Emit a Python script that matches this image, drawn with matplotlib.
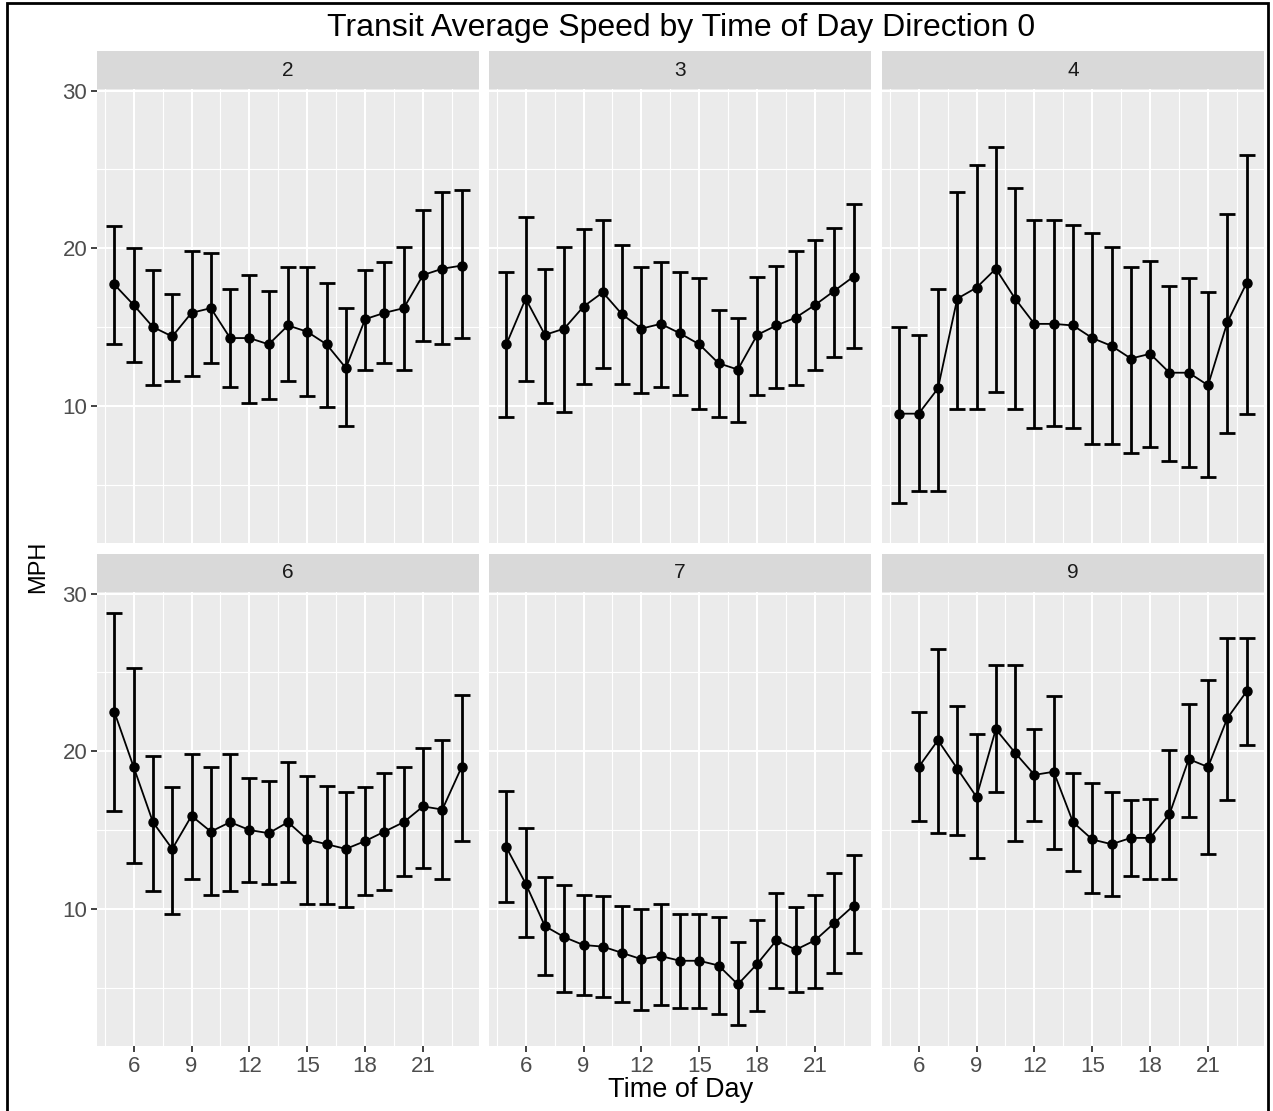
import numpy as np
import matplotlib.pyplot as plt
from matplotlib.patches import Rectangle
from matplotlib.ticker import FixedLocator

plt.rcParams['font.family'] = ['Liberation Sans', 'DejaVu Sans']

# Hours of day (x categories)
hours = [5, 6, 7, 8, 9, 10, 11, 12, 13, 14, 15, 16, 17, 18, 19, 20, 21, 22, 23]
hours_9 = [6, 7, 8, 9, 10, 11, 12, 13, 14, 15, 16, 17, 18, 19, 20, 21, 22, 23]

routes = ["2", "3", "4", "6", "7", "9"]

# Route 2
speed_2 = [17.7, 16.4, 15.0, 14.4, 15.9, 16.2, 14.3, 14.3, 13.9, 15.1, 14.7, 13.9, 12.4, 15.5, 15.9, 16.2, 18.3, 18.7, 18.9]
upper_2 = [21.4, 20.0, 18.6, 17.1, 19.8, 19.7, 17.4, 18.3, 17.3, 18.8, 18.8, 17.8, 16.2, 18.6, 19.1, 20.1, 22.4, 23.6, 23.7]
lower_2 = [13.9, 12.8, 11.3, 11.6, 11.9, 12.7, 11.2, 10.2, 10.4, 11.6, 10.6, 9.9, 8.7, 12.3, 12.7, 12.3, 14.1, 13.9, 14.3]

# Route 3
speed_3 = [13.9, 16.8, 14.5, 14.9, 16.3, 17.2, 15.8, 14.9, 15.2, 14.6, 13.9, 12.7, 12.3, 14.5, 15.1, 15.6, 16.4, 17.3, 18.2]
upper_3 = [18.5, 22.0, 18.7, 20.1, 21.2, 21.8, 20.2, 18.8, 19.1, 18.5, 18.1, 16.1, 15.6, 18.2, 18.9, 19.8, 20.5, 21.3, 22.8]
lower_3 = [9.3, 11.6, 10.2, 9.6, 11.4, 12.4, 11.4, 10.8, 11.2, 10.7, 9.8, 9.3, 9.0, 10.7, 11.1, 11.3, 12.3, 13.1, 13.7]

# Route 4
speed_4 = [9.5, 9.5, 11.1, 16.8, 17.5, 18.7, 16.8, 15.2, 15.2, 15.1, 14.3, 13.8, 13.0, 13.3, 12.1, 12.1, 11.3, 15.3, 17.8]
upper_4 = [15.0, 14.5, 17.4, 23.6, 25.3, 26.4, 23.8, 21.8, 21.8, 21.5, 21.0, 20.1, 18.8, 19.2, 17.6, 18.1, 17.2, 22.2, 25.9]
lower_4 = [3.8, 4.6, 4.6, 9.8, 9.8, 10.9, 9.8, 8.6, 8.7, 8.6, 7.6, 7.6, 7.0, 7.4, 6.5, 6.1, 5.5, 8.3, 9.5]

# Route 6
speed_6 = [22.5, 19.0, 15.5, 13.8, 15.9, 14.9, 15.5, 15.0, 14.8, 15.5, 14.4, 14.1, 13.8, 14.3, 14.9, 15.5, 16.5, 16.3, 19.0]
upper_6 = [28.8, 25.3, 19.7, 17.7, 19.8, 19.0, 19.8, 18.3, 18.1, 19.3, 18.4, 17.8, 17.4, 17.7, 18.6, 19.0, 20.2, 20.7, 23.6]
lower_6 = [16.2, 12.9, 11.1, 9.7, 11.9, 10.9, 11.1, 11.7, 11.6, 11.7, 10.3, 10.3, 10.1, 10.9, 11.2, 12.1, 12.6, 11.9, 14.3]

# Route 7
speed_7 = [13.9, 11.6, 8.9, 8.2, 7.7, 7.6, 7.2, 6.8, 7.0, 6.7, 6.7, 6.4, 5.2, 6.5, 8.0, 7.4, 8.0, 9.1, 10.2]
upper_7 = [17.5, 15.1, 12.0, 11.5, 10.9, 10.8, 10.2, 10.0, 10.3, 9.7, 9.7, 9.5, 7.9, 9.3, 11.0, 10.1, 10.9, 12.3, 13.4]
lower_7 = [10.4, 8.2, 5.8, 4.7, 4.5, 4.4, 4.1, 3.6, 3.9, 3.7, 3.7, 3.3, 2.6, 3.5, 5.0, 4.7, 5.0, 5.9, 7.2]

# Route 9 (no 5 am trip)
speed_9 = [19.0, 20.7, 18.9, 17.1, 21.4, 19.9, 18.5, 18.7, 15.5, 14.4, 14.1, 14.5, 14.5, 16.0, 19.5, 19.0, 22.1, 23.8]
upper_9 = [22.5, 26.5, 22.9, 21.1, 25.5, 25.5, 21.4, 23.5, 18.6, 18.0, 17.4, 16.9, 17.0, 20.1, 23.0, 24.5, 27.2, 27.2]
lower_9 = [15.6, 14.8, 14.7, 13.2, 17.4, 14.3, 15.6, 13.8, 12.4, 11.0, 10.8, 12.1, 11.9, 11.9, 15.8, 13.5, 16.9, 20.4]

panel_data = {
    "2": (hours, speed_2, upper_2, lower_2),
    "3": (hours, speed_3, upper_3, lower_3),
    "4": (hours, speed_4, upper_4, lower_4),
    "6": (hours, speed_6, upper_6, lower_6),
    "7": (hours, speed_7, upper_7, lower_7),
    "9": (hours_9, speed_9, upper_9, lower_9),
}

W, H = 1273, 1111
fig = plt.figure(figsize=(W / 100, H / 100), dpi=100)

# ggplot-like 5% expansion of shared scales
all_hours = hours + hours_9
xmin, xmax = min(all_hours), max(all_hours)
xpad = 0.05 * (xmax - xmin)
all_up = upper_2 + upper_3 + upper_4 + upper_6 + upper_7 + upper_9
all_lo = lower_2 + lower_3 + lower_4 + lower_6 + lower_7 + lower_9
ymin, ymax = min(all_lo), max(all_up)
ypad = 0.05 * (ymax - ymin)

col_left = [97, 489, 882]
panel_w = 382
row_top = [89, 592]
panel_h = 454
strip_h = 38

for i, r in enumerate(routes):
    row, col = divmod(i, 3)
    x0 = col_left[col]
    y_top = row_top[row]
    ax = fig.add_axes([x0 / W, 1 - (y_top + panel_h) / H, panel_w / W, panel_h / H])
    sx = fig.add_axes([x0 / W, 1 - y_top / H, panel_w / W, strip_h / H])
    sx.set_facecolor('#D9D9D9')
    sx.set_xticks([])
    sx.set_yticks([])
    for s in sx.spines.values():
        s.set_visible(False)
    sx.text(0.5, 0.5, r, ha='center', va='center', fontsize=15, color='#1A1A1A', transform=sx.transAxes)

    h, sp, up, lo = panel_data[r]
    sp, up, lo = np.array(sp), np.array(up), np.array(lo)
    ax.errorbar(h, sp, yerr=[sp - lo, up - sp], fmt='-o', color='black', ms=6.5, lw=1.3,
                elinewidth=2.0, capsize=5.5, capthick=2.0, zorder=3)

    ax.set_facecolor('#EBEBEB')
    for s in ax.spines.values():
        s.set_visible(False)
    ax.set_xlim(xmin - xpad, xmax + xpad)
    ax.set_ylim(ymin - ypad, ymax + ypad)
    ax.xaxis.set_major_locator(FixedLocator([6, 9, 12, 15, 18, 21]))
    ax.xaxis.set_minor_locator(FixedLocator([4.5, 7.5, 10.5, 13.5, 16.5, 19.5, 22.5]))
    ax.yaxis.set_major_locator(FixedLocator([10, 20, 30]))
    ax.yaxis.set_minor_locator(FixedLocator([5, 15, 25]))
    ax.grid(which='major', color='white', lw=1.5)
    ax.grid(which='minor', color='white', lw=0.8)
    ax.set_axisbelow(True)
    ax.tick_params(which='minor', length=0)
    ax.tick_params(which='major', length=4, width=1.3, color='#333333', labelcolor='#4D4D4D',
                   labelsize=16, pad=3)
    if row == 0:
        ax.tick_params(axis='x', which='major', length=0, labelbottom=False)
    if col != 0:
        ax.tick_params(axis='y', which='major', length=0, labelleft=False)

fig.text(681 / W, 1 - 28 / H, "Transit Average Speed by Time of Day Direction 0",
         ha='center', va='center', fontsize=23, color='black')
fig.text(681 / W, 1 - 1090 / H, "Time of Day", ha='center', va='center', fontsize=19.5, color='black')
fig.text(38 / W, 1 - 567 / H, "MPH", ha='center', va='center', rotation=90, fontsize=17, color='black')

# black frame around the picture
fig.patches.append(Rectangle((7 / W, -0.01), (1268 - 7) / W, 1.01 - 3 / H, transform=fig.transFigure,
                             fill=False, edgecolor='black', lw=2))

plt.savefig('out.png', dpi=100)
